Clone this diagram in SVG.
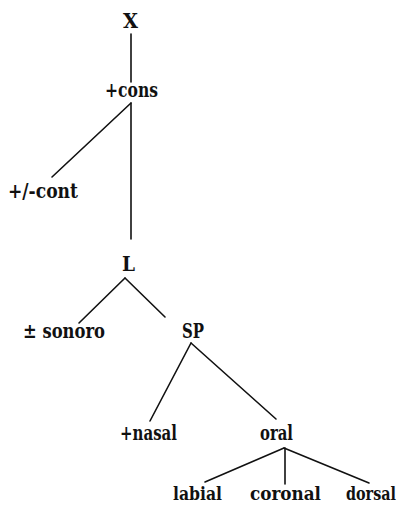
<svg xmlns="http://www.w3.org/2000/svg" width="406" height="507" viewBox="0 0 406 507">
<style>
text{font-family:"DejaVu Serif","Liberation Serif",serif;font-size:20px;font-weight:bold;fill:#111;}
.b{font-size:19px;}
.e{stroke:#111;stroke-width:1.6;fill:none;stroke-linecap:round;}
</style>
<rect width="406" height="507" fill="#fff"/>
<g id="edges">
<line class="e" x1="131" y1="34" x2="131" y2="82"/>
<line class="e" x1="131" y1="103" x2="131" y2="239"/>
<line class="e" x1="131" y1="103" x2="52" y2="177"/>
<line class="e" x1="125" y1="278" x2="79" y2="323"/>
<line class="e" x1="125" y1="278" x2="165" y2="317"/>
<line class="e" x1="191" y1="343" x2="150" y2="421"/>
<line class="e" x1="191" y1="343" x2="276" y2="419"/>
<line class="e" x1="284" y1="448" x2="205" y2="482"/>
<line class="e" x1="285" y1="448" x2="285" y2="484"/>
<line class="e" x1="284" y1="448" x2="369" y2="483"/>
</g>
<g id="n-X"><text x="123" y="28" textLength="15" lengthAdjust="spacingAndGlyphs">X</text></g>
<g id="n-cons"><text x="105" y="97" textLength="53" lengthAdjust="spacingAndGlyphs">+cons</text></g>
<g id="n-cont"><text x="8" y="198" textLength="70" lengthAdjust="spacingAndGlyphs">+/-cont</text></g>
<g id="n-L"><text x="122" y="271" textLength="13" lengthAdjust="spacingAndGlyphs">L</text></g>
<g id="n-sonoro"><text x="23" y="338" textLength="82" lengthAdjust="spacingAndGlyphs">± sonoro</text></g>
<g id="n-SP"><text x="182" y="338" textLength="22" lengthAdjust="spacingAndGlyphs">SP</text></g>
<g id="n-nasal"><text x="120" y="440" textLength="57" lengthAdjust="spacingAndGlyphs">+nasal</text></g>
<g id="n-oral"><text x="260" y="440" textLength="33" lengthAdjust="spacingAndGlyphs">oral</text></g>
<g id="n-labial"><text class="b" x="173" y="500" textLength="49" lengthAdjust="spacingAndGlyphs">labial</text></g>
<g id="n-coronal"><text class="b" x="250" y="500" textLength="71" lengthAdjust="spacingAndGlyphs">coronal</text></g>
<g id="n-dorsal"><text class="b" transform="translate(346,500) scale(0.755,1)" x="0" y="0">dorsal</text></g>
</svg>
